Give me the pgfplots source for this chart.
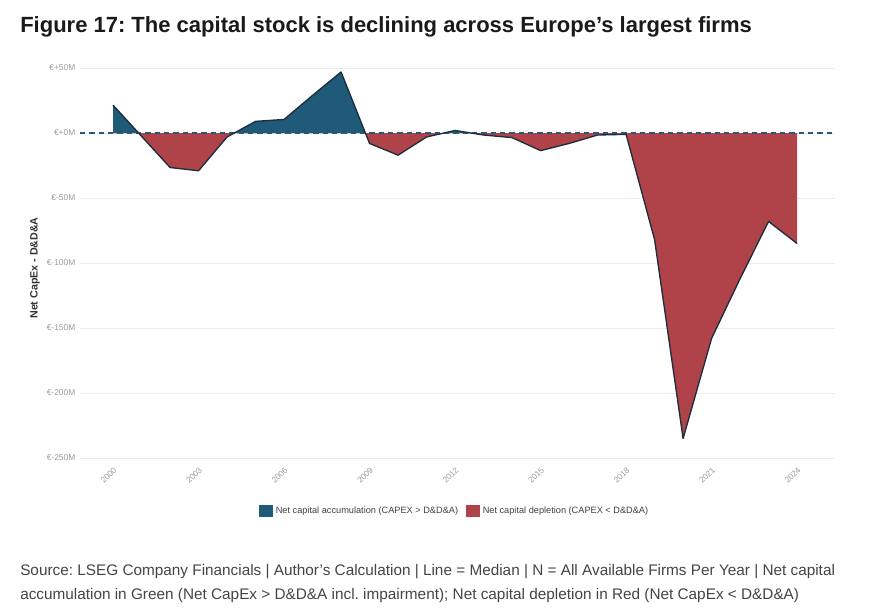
\documentclass[border=0pt]{standalone}
\usepackage{pgfplots}
\pgfplotsset{compat=1.18}
\usepackage{pgfplotstable}
\usepackage{fontspec}
\setmainfont{Liberation Sans}
\frenchspacing
\definecolor{accblue}{HTML}{1F5A78}
\definecolor{deplred}{HTML}{B0434A}
\definecolor{linecol}{HTML}{1C2E3B}
\definecolor{dashcol}{HTML}{2A5870}
\definecolor{tickgray}{HTML}{9A9A9A}
\definecolor{srcgray}{HTML}{444444}
\definecolor{titlecol}{HTML}{1A1A1A}

\pgfplotstableread{
year value
2000 21.5
2001 -2.5
2002 -26.5
2003 -29
2004 -3
2005 9
2006 10.5
2007 29
2008 47
2009 -8
2010 -17
2011 -3
2012 2
2013 -1.5
2014 -3.5
2015 -13.5
2016 -8
2017 -1.5
2018 -1
2019 -82
2020 -235
2021 -158
2022 -112
2023 -68
2024 -85
}\capdata

\begin{document}
\begin{tikzpicture}[x=0.75pt,y=0.75pt]
\node[anchor=base west, inner sep=0pt, font=\bfseries\fontsize{16.5}{18}\selectfont, text=titlecol] at (20,583) {Figure 17: The capital stock is declining across Europe's largest firms};
\node[anchor=base west, inner sep=0pt, font=\fontsize{11.5}{18}\selectfont, text=srcgray] at (20,40) {Source: LSEG Company Financials | Author's Calculation | Line = Median | N = All Available Firms Per Year | Net capital};
\node[anchor=base west, inner sep=0pt, font=\fontsize{11.5}{18}\selectfont, text=srcgray] at (20,16) {accumulation in Green (Net CapEx > D\&D\&A incl. impairment); Net capital depletion in Red (Net CapEx < D\&D\&A)};
\begin{axis}[
  at={(60pt,113.625pt)}, anchor=south west,
  scale only axis, width=566.25pt, height=309pt,
  xmin=1998.84, xmax=2025.33, ymin=-255, ymax=62,
  axis line style={draw=none},
  major tick length=0pt,
  ytick={-250,-200,-150,-100,-50,0,50},
  yticklabels={€-250M,€-200M,€-150M,€-100M,€-50M,€+0M,€+50M},
  xtick={2000,2003,2006,2009,2012,2015,2018,2021,2024},
  xticklabels={2000,2003,2006,2009,2012,2015,2018,2021,2024},
  x tick label style={rotate=45, anchor=north east, font=\fontsize{6.2}{6.5}\selectfont, text=tickgray, inner sep=1pt},
  y tick label style={font=\fontsize{6.3}{6.5}\selectfont, text=tickgray},
  ymajorgrids, grid style={color=black!8, line width=0.5pt},
  ylabel={Net CapEx - D\&D\&A},
  ylabel style={at={(axis description cs:-0.0596,0.477)}, anchor=center, font=\bfseries\fontsize{8}{9}\selectfont, text=black!80},
  legend style={at={(0.4967,-0.1129)}, anchor=center, draw=none, fill=none, legend columns=2,
    font=\fontsize{6.9}{7}\selectfont, text=black!75,
    /tikz/every even column/.append style={column sep=4pt}},
  legend image code/.code={\fill[#1] (0pt,-4.5pt) rectangle (10.5pt,4.5pt);},
  clip=false,
]
\begin{scope}
\clip (axis cs:1998.84,0) rectangle (axis cs:2025.33,62);
\addplot[fill=accblue, draw=none, forget plot] table[x=year,y=value]{\capdata} \closedcycle;
\end{scope}
\begin{scope}
\clip (axis cs:1998.84,-255) rectangle (axis cs:2025.33,0);
\addplot[fill=deplred, draw=none, forget plot] table[x=year,y=value]{\capdata} \closedcycle;
\end{scope}
\addplot[dashcol, line width=1.1pt, dash pattern=on 4pt off 3pt, forget plot] coordinates {(1998.84,0) (2025.33,0)};
\addplot[linecol, line width=1pt, line join=round, forget plot] table[x=year,y=value]{\capdata};
\addlegendimage{fill=accblue, draw=none}
\addlegendentry{Net capital accumulation (CAPEX > D\&D\&A)}
\addlegendimage{fill=deplred, draw=none}
\addlegendentry{Net capital depletion (CAPEX < D\&D\&A)}
\end{axis}
\pgfresetboundingbox
\path (0,0) rectangle (874,616);
\end{tikzpicture}
\end{document}
